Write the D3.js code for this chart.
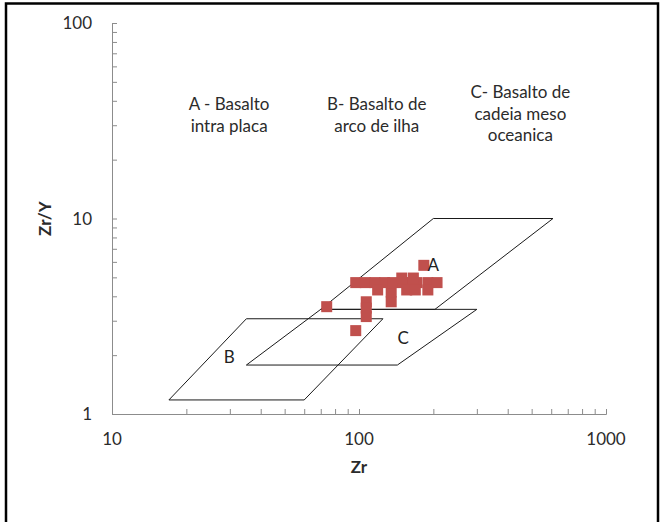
<!DOCTYPE html>
<html>
<head>
<meta charset="utf-8">
<script src="https://cdn.jsdelivr.net/npm/d3@7"></script>
<style>
  html, body { margin: 0; padding: 0; background: #fff; }
  svg { display: block; font-family: Lato, "Open Sans", sans-serif; }
</style>
</head>
<body>
<svg id="chart" width="661" height="522"></svg>
<script>
// ---- data ----
const zrValues  = [183, 74, 97, 107, 107, 107, 135, 135, 97, 106, 116, 127, 137, 151, 164, 171, 190, 207, 119, 156, 169, 190, 149, 166];
const zrYValues = [5.76, 3.54, 2.67, 3.75, 3.15, 3.48, 3.75, 4.21, 4.70, 4.70, 4.70, 4.70, 4.70, 4.70, 4.70, 4.70, 4.70, 4.70, 4.31, 4.31, 4.31, 4.31, 4.96, 4.96];

const fieldA = [[200, 10], [610, 10], [203, 3.43], [70, 3.43]];
const fieldB = [[17, 1.18], [60, 1.18], [125, 3.07], [35, 3.07]];
const fieldC = [[35, 1.78], [143, 1.78], [300, 3.43], [70, 3.43]];

const fieldLetters = [
  { t: "A", zr: 200, zrY: 5.78 },
  { t: "C", zr: 151, zrY: 2.45 },
  { t: "B", zr: 29.8, zrY: 1.96 }
];
const regionNotes = [
  { zr: 29.8, zrY: 38.6, lines: ["A - Basalto", "intra placa"] },
  { zr: 118,  zrY: 38.6, lines: ["B- Basalto de", "arco de ilha"] },
  { zr: 450,  zrY: 44.5, lines: ["C- Basalto de", "cadeia meso", "oceanica"] }
];

const xTickLabels = [10, 100, 1000];
const yTickLabels = [1, 10, 100];

// ---- layout ----
const svg = d3.select("#chart");
const x = d3.scaleLog().domain([10, 1000]).range([112, 606]);
const y = d3.scaleLog().domain([1, 100]).range([414, 23]);

const cAxis = "#8c8c8c", cText = "#2b2b2b", cLine = "#1a1a1a", cPoint = "#c0504d";
const fs = 17;

// chart border
svg.append("rect").attr("x", 6).attr("y", 3.5).attr("width", 652).attr("height", 540)
  .attr("fill", "none").attr("stroke", "#000").attr("stroke-width", 2.5);

// axes
const xAxis = d3.axisBottom(x).tickValues(d3.range(1, 10).map(d => d * 10).concat(d3.range(1, 11).map(d => d * 100)))
  .tickSize(-5).tickFormat("");
const yAxis = d3.axisLeft(y).tickValues(d3.range(1, 10).concat(d3.range(1, 10).map(d => d * 10), [100]))
  .tickSize(-5).tickFormat("");

const gx = svg.append("g").attr("transform", `translate(0,${y(1)})`).call(xAxis);
const gy = svg.append("g").attr("transform", `translate(${x(10)},0)`).call(yAxis);
[gx, gy].forEach(g => {
  g.select(".domain").attr("stroke", cAxis).attr("stroke-width", 1);
  g.selectAll(".tick line").attr("stroke", cAxis);
});

// tick labels
svg.append("g").selectAll("text").data(xTickLabels).join("text")
  .attr("x", d => x(d)).attr("y", 445).attr("text-anchor", "middle")
  .attr("font-size", fs).attr("fill", cText).text(d => d);
svg.append("g").selectAll("text").data(yTickLabels).join("text")
  .attr("x", 92).attr("y", d => y(d) + 6).attr("text-anchor", "end")
  .attr("font-size", fs).attr("fill", cText).text(d => d);

// axis titles
svg.append("text").attr("x", x(100)).attr("y", 473).attr("text-anchor", "middle")
  .attr("font-size", fs).attr("font-weight", "bold").attr("fill", cText).text("Zr");
svg.append("text").attr("transform", `translate(51,${y(10)}) rotate(-90)`).attr("text-anchor", "middle")
  .attr("font-size", fs).attr("font-weight", "bold").attr("fill", cText).text("Zr/Y");

// fields
const line = d3.line().x(d => x(d[0])).y(d => y(d[1])).curve(d3.curveLinearClosed);
[fieldA, fieldB, fieldC].forEach(f => {
  svg.append("path").attr("d", line(f)).attr("fill", "none")
    .attr("stroke", cLine).attr("stroke-width", 1);
});

// points
const pts = zrValues.map((v, i) => ({ zr: v, zrY: zrYValues[i] }));
const size = 11;
svg.append("g").selectAll("rect").data(pts).join("rect")
  .attr("x", d => x(d.zr) - size / 2).attr("y", d => y(d.zrY) - size / 2)
  .attr("width", size).attr("height", size).attr("fill", cPoint);

// field letters
svg.append("g").selectAll("text").data(fieldLetters).join("text")
  .attr("x", d => x(d.zr)).attr("y", d => y(d.zrY) + 6).attr("text-anchor", "middle")
  .attr("font-size", fs).attr("fill", "#222").text(d => d.t);

// region notes
regionNotes.forEach(n => {
  const t = svg.append("text").attr("text-anchor", "middle").attr("font-size", fs).attr("fill", cText);
  n.lines.forEach((s, i) => {
    t.append("tspan").attr("x", x(n.zr)).attr("y", y(n.zrY) + 6 + i * 21.8).text(s);
  });
});
</script>
</body>
</html>
